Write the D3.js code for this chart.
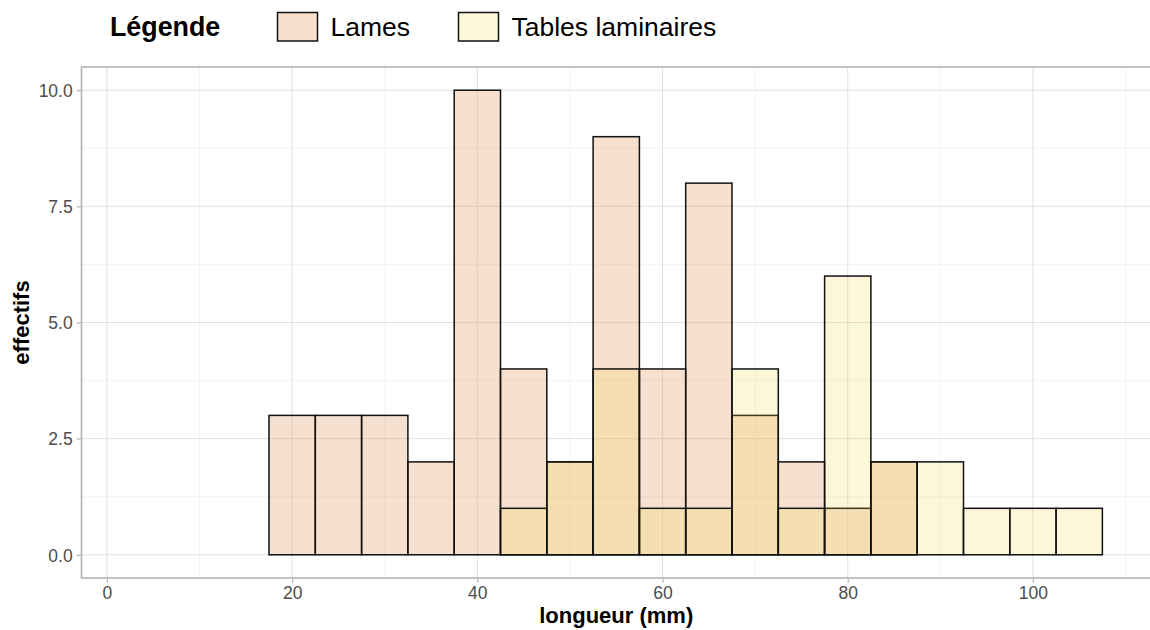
<!DOCTYPE html>
<html lang="fr">
<head>
<meta charset="UTF-8">
<title>Histogramme longueur</title>
<script src="https://d3js.org/d3.v7.min.js"></script>
<style>
  body { margin: 0; background: #fff; }
  text { font-family: "Liberation Sans", Arial, sans-serif; }
</style>
</head>
<body>
<script>

    // bin centres (width 5) and counts
    var centres = [5, 10, 15, 20, 25, 30, 35, 40, 45, 50, 55, 60, 65, 70, 75, 80, 85, 90, 95, 100, 105]
    var lames   = [0, 0, 0, 3, 3, 3, 2, 10, 4, 2, 9, 4, 8, 3, 2, 1, 2, 0, 0, 0, 0]
    var tables  = [0, 0, 0, 0, 0, 0, 0, 0, 1, 2, 4, 1, 1, 4, 1, 6, 2, 2, 1, 1, 1]
    var binwidth = 5

    var series_names = ["Lames", "Tables laminaires"]
    var x_ticks = [0, 20, 40, 60, 80, 100]
    var x_minor = [10, 30, 50, 70, 90, 110]
    var y_ticks = [0, 2.5, 5, 7.5, 10]
    var y_minor = [1.25, 3.75, 6.25, 8.75]

    var width = 1150, height = 630
    var m = {left: 81.5, right: 1151, top: 67, bottom: 578}

    var svg = d3.select("body").append("svg")
        .attr("width", width)
        .attr("height", height)

    var x = d3.scaleLinear().domain([-2.75, 112.75]).range([m.left, m.right])
    var y = d3.scaleLinear().domain([-0.5, 10.5]).range([m.bottom, m.top])

    var fills = [
        {fill: "#e3a070", op: 0.33},
        {fill: "#f0d73c", op: 0.2}
    ]

    // grid
    var grid = svg.append("g")
    x_minor.forEach(function (v) {
        grid.append("line").attr("x1", x(v)).attr("x2", x(v)).attr("y1", m.top).attr("y2", m.bottom)
            .attr("stroke", "#ebebeb").attr("stroke-width", 0.6)
    })
    y_minor.forEach(function (v) {
        grid.append("line").attr("x1", m.left).attr("x2", m.right).attr("y1", y(v)).attr("y2", y(v))
            .attr("stroke", "#ebebeb").attr("stroke-width", 0.6)
    })
    x_ticks.forEach(function (v) {
        grid.append("line").attr("x1", x(v)).attr("x2", x(v)).attr("y1", m.top).attr("y2", m.bottom)
            .attr("stroke", "#e0e0e0").attr("stroke-width", 1)
    })
    y_ticks.forEach(function (v) {
        grid.append("line").attr("x1", m.left).attr("x2", m.right).attr("y1", y(v)).attr("y2", y(v))
            .attr("stroke", "#e0e0e0").attr("stroke-width", 1)
    })

    // bars : Lames first, Tables on top
    var all = [lames, tables]
    all.forEach(function (counts, k) {
        var g = svg.append("g")
        for (var i = 0; i < centres.length; i++) {
            if (counts[i] == 0) continue
            g.append("rect")
                .attr("x", x(centres[i] - binwidth / 2))
                .attr("y", y(counts[i]))
                .attr("width", x(centres[i] + binwidth / 2) - x(centres[i] - binwidth / 2))
                .attr("height", y(0) - y(counts[i]))
                .attr("fill", fills[k].fill)
                .attr("fill-opacity", fills[k].op)
                .attr("stroke", "#111")
                .attr("stroke-width", 1.5)
        }
    })

    // panel border
    svg.append("rect")
        .attr("x", m.left).attr("y", m.top)
        .attr("width", m.right - m.left).attr("height", m.bottom - m.top)
        .attr("fill", "none").attr("stroke", "#b3b3b3").attr("stroke-width", 1.6)

    // axes
    var xAxis = svg.append("g")
        .attr("transform", "translate(0," + (m.bottom + 0.8) + ")")
        .call(d3.axisBottom(x).tickValues(x_ticks).tickSize(4).tickPadding(4).tickFormat(d3.format("d")))
    var yAxis = svg.append("g")
        .attr("transform", "translate(" + (m.left - 0.8) + ",0)")
        .call(d3.axisLeft(y).tickValues(y_ticks).tickSize(4).tickPadding(4).tickFormat(d3.format(".1f")))

    ;[xAxis, yAxis].forEach(function (a) {
        a.select(".domain").remove()
        a.selectAll(".tick line").attr("stroke", "#b3b3b3").attr("stroke-width", 1.2)
        a.selectAll(".tick text")
            .attr("fill", "#4d4d4d")
            .style("font-size", "17.5px")
            .style("font-family", "Liberation Sans, Arial, sans-serif")
    })
    yAxis.selectAll(".tick text").attr("dy", "0.36em")

    // axis titles
    svg.append("text")
        .attr("x", (m.left + m.right) / 2)
        .attr("y", 623)
        .attr("text-anchor", "middle")
        .attr("font-weight", "bold")
        .attr("font-size", 22)
        .text("longueur (mm)")

    svg.append("text")
        .attr("transform", "translate(29," + (m.top + m.bottom) / 2 + ") rotate(-90)")
        .attr("text-anchor", "middle")
        .attr("font-weight", "bold")
        .attr("font-size", 22)
        .text("effectifs")

    // legend
    var legend = svg.append("g")
    legend.append("text")
        .attr("x", 110).attr("y", 36)
        .attr("font-weight", "bold")
        .attr("font-size", 26.8)
        .text("Légende")

    var key_x = [277.5, 458.5]
    series_names.forEach(function (name, k) {
        legend.append("rect")
            .attr("x", key_x[k]).attr("y", 12.5)
            .attr("width", 40).attr("height", 28.5)
            .attr("fill", "#fff")
        legend.append("rect")
            .attr("x", key_x[k]).attr("y", 12.5)
            .attr("width", 40).attr("height", 28.5)
            .attr("fill", fills[k].fill)
            .attr("fill-opacity", fills[k].op)
            .attr("stroke", "#111")
            .attr("stroke-width", 1.5)
        legend.append("text")
            .attr("x", key_x[k] + 53).attr("y", 36)
            .attr("font-size", 26.5)
            .text(name)
    })

</script>
</body>
</html>
